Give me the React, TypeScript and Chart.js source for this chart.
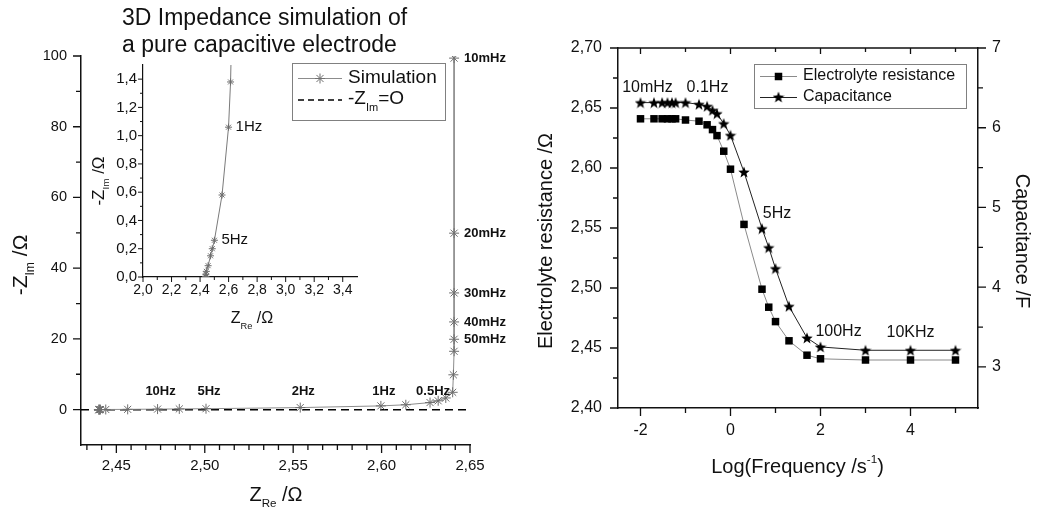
import React, { useEffect, useRef } from 'react';
import { Chart, registerables } from 'chart.js';

Chart.register(...registerables);

const FONT = '"Liberation Sans", Arial, Helvetica, sans-serif';
const INK = '#111111';

// ---------------- data ----------------
const freqLabels = ['10mHz', '20mHz', '30mHz', '40mHz', '50mHz', '60mHz', '0.1Hz', '0.2Hz', '0.3Hz', '0.4Hz', '0.5Hz', '0.7Hz', '1Hz', '2Hz', '5Hz', '7Hz', '10Hz', '20Hz', '50Hz', '100Hz', '1KHz', '10KHz', '100KHz'];
const logFrequency = [-2, -1.7, -1.52, -1.4, -1.3, -1.22, -1, -0.7, -0.52, -0.4, -0.3, -0.15, 0, 0.3, 0.7, 0.85, 1, 1.3, 1.7, 2, 3, 4, 5];
const electrolyteResistance = [2.641, 2.641, 2.641, 2.641, 2.641, 2.641, 2.640, 2.639, 2.636, 2.632, 2.627, 2.614, 2.599, 2.553, 2.499, 2.484, 2.472, 2.456, 2.444, 2.441, 2.440, 2.440, 2.440];
const capacitance = [6.315, 6.315, 6.315, 6.315, 6.315, 6.315, 6.315, 6.294, 6.269, 6.219, 6.177, 6.052, 5.905, 5.445, 4.735, 4.497, 4.234, 3.761, 3.364, 3.251, 3.209, 3.209, 3.209];
const zRe = [2.641, 2.641, 2.641, 2.641, 2.641, 2.641, 2.6406, 2.6402, 2.6363, 2.632, 2.6274, 2.6137, 2.5996, 2.554, 2.5007, 2.4856, 2.4733, 2.4564, 2.444, 2.441, 2.4404, 2.4402, 2.4401];
const zIm = [99.4, 49.9, 33.0, 24.8, 19.9, 16.5, 9.85, 4.9, 3.3, 2.5, 2.0, 1.38, 1.06, 0.58, 0.26, 0.2, 0.15, 0.08, 0.04, 0.02, 0.005, 0.0, 0.0];

// tick labels
const nyquistXTicks = [2.45, 2.5, 2.55, 2.6, 2.65];
const nyquistYTicks = [0, 20, 40, 60, 80, 100];
const nyquistYMinor = [10, 30, 50, 70, 90];
const insetXTicks = [2.0, 2.2, 2.4, 2.6, 2.8, 3.0, 3.2, 3.4];
const insetXMinor = [2.1, 2.3, 2.5, 2.7, 2.9, 3.1, 3.3];
const insetYTicks = [0, 0.2, 0.4, 0.6, 0.8, 1.0, 1.2, 1.4];
const insetYMinor = [0.1, 0.3, 0.5, 0.7, 0.9, 1.1, 1.3];
const logFreqTicks = [-2, 0, 2, 4];
const logFreqMinor = [-1, 1, 3, 5];
const resistanceTicks = [2.4, 2.45, 2.5, 2.55, 2.6, 2.65, 2.7];
const resistanceMinor = [2.425, 2.475, 2.525, 2.575, 2.625, 2.675];
const capacitanceTicks = [3, 4, 5, 6, 7];
const capacitanceMinor = [3.5, 4.5, 5.5, 6.5];

// annotated frequencies
const nyquistSideLabels = ['10mHz', '20mHz', '30mHz', '40mHz', '50mHz'];
const nyquistTopLabels = ['10Hz', '5Hz', '2Hz', '1Hz', '0.5Hz'];
const insetLabels = ['1Hz', '5Hz'];
const bodeLabels = ['10mHz', '0.1Hz', '5Hz', '100Hz', '10KHz'];
const bodeLabelOffset: Record<string, [number, number]> = {
  '10mHz': [7, -15],
  '0.1Hz': [22, -15],
  '5Hz': [15, -15],
  '100Hz': [18, -15],
  '10KHz': [0, -18],
};

// ---------------- helpers ----------------
type Part = { t: string; sub?: boolean; sup?: boolean };

function drawRich(
  ctx: CanvasRenderingContext2D,
  parts: Part[],
  x: number,
  y: number,
  size: number,
  opts: { align?: 'left' | 'center' | 'right'; rotate?: number; bold?: boolean; color?: string } = {}
) {
  const align = opts.align || 'center';
  ctx.save();
  ctx.translate(x, y);
  if (opts.rotate) ctx.rotate(opts.rotate);
  const fontFor = (p: Part) => `${opts.bold ? 'bold ' : ''}${p.sub || p.sup ? size * 0.58 : size}px ${FONT}`;
  const widths = parts.map((p) => {
    ctx.font = fontFor(p);
    return ctx.measureText(p.t).width;
  });
  const total = widths.reduce((a, b) => a + b, 0);
  let cx = align === 'center' ? -total / 2 : align === 'right' ? -total : 0;
  ctx.textBaseline = 'middle';
  ctx.textAlign = 'left';
  ctx.fillStyle = opts.color || INK;
  parts.forEach((p, i) => {
    ctx.font = fontFor(p);
    const dy = p.sub ? size * 0.45 : p.sup ? -size * 0.38 : 0;
    ctx.fillText(p.t, cx, dy);
    cx += widths[i];
  });
  ctx.restore();
}

function drawAsterisk(ctx: CanvasRenderingContext2D, x: number, y: number, r: number, color: string) {
  ctx.save();
  ctx.strokeStyle = color;
  ctx.lineWidth = 1;
  ctx.beginPath();
  for (let k = 0; k < 4; k++) {
    const a = (k * Math.PI) / 4;
    ctx.moveTo(x - r * Math.cos(a), y - r * Math.sin(a));
    ctx.lineTo(x + r * Math.cos(a), y + r * Math.sin(a));
  }
  ctx.stroke();
  ctx.restore();
}

function makeStar(size: number, color: string) {
  const c = document.createElement('canvas');
  c.width = size;
  c.height = size;
  const g = c.getContext('2d')!;
  const cx = size / 2;
  const cy = size / 2 + 0.6;
  const R = size / 2;
  const r = R * 0.42;
  g.beginPath();
  for (let i = 0; i < 10; i++) {
    const rad = i % 2 === 0 ? R : r;
    const ang = -Math.PI / 2 + (i * Math.PI) / 5;
    g.lineTo(cx + rad * Math.cos(ang), cy + rad * Math.sin(ang));
  }
  g.closePath();
  g.fillStyle = color;
  g.fill();
  return c;
}

const setTicks = (values: number[]) => (scale: any) => {
  scale.ticks = values.map((v) => ({ value: v }));
};
const comma = (d: number) => (v: any) => Number(v).toFixed(d).replace('.', ',');

type TickSpec = { scale: string; edge: 'left' | 'right' | 'top' | 'bottom'; values: number[]; len: number; inward?: boolean };

function tickPlugin(id: string, specs: TickSpec[], lw: number, frameTop = false) {
  return {
    id,
    afterDraw(chart: any) {
      const ctx: CanvasRenderingContext2D = chart.ctx;
      const a = chart.chartArea;
      ctx.save();
      ctx.strokeStyle = INK;
      ctx.lineWidth = lw;
      ctx.beginPath();
      for (const s of specs) {
        const sc = chart.scales[s.scale];
        for (const v of s.values) {
          const p = sc.getPixelForValue(v);
          if (s.edge === 'bottom' || s.edge === 'top') {
            const y0 = s.edge === 'bottom' ? a.bottom : a.top;
            const dir = s.edge === 'bottom' ? (s.inward ? -1 : 1) : s.inward ? 1 : -1;
            ctx.moveTo(p, y0);
            ctx.lineTo(p, y0 + dir * s.len);
          } else {
            const x0 = s.edge === 'left' ? a.left : a.right;
            const dir = s.edge === 'left' ? (s.inward ? 1 : -1) : s.inward ? -1 : 1;
            ctx.moveTo(x0, p);
            ctx.lineTo(x0 + dir * s.len, p);
          }
        }
      }
      if (frameTop) {
        ctx.moveTo(a.left, a.top);
        ctx.lineTo(a.right, a.top);
      }
      ctx.stroke();
      ctx.restore();
    },
  };
}

function axis(
  min: number,
  max: number,
  values: number[],
  fmt: (v: any) => string,
  size: number,
  padding: number,
  fit: (s: any) => void,
  extra: any = {},
  borderWidth = 1.5
) {
  return {
    type: 'linear',
    min,
    max,
    afterBuildTicks: setTicks(values),
    ticks: {
      callback: fmt,
      font: { family: FONT, size },
      color: INK,
      padding,
      autoSkip: false,
      maxRotation: 0,
      minRotation: 0,
    },
    grid: { display: false, drawTicks: false },
    border: { display: true, color: INK, width: borderWidth },
    title: { display: false },
    afterFit: fit,
    ...extra,
  };
}

// ---------------- component ----------------
export default function App() {
  const mainRef = useRef<HTMLCanvasElement>(null);
  const insetRef = useRef<HTMLCanvasElement>(null);
  const bodeRef = useRef<HTMLCanvasElement>(null);

  useEffect(() => {
    const charts: Chart[] = [];
    const simPoints = zRe.map((x, i) => ({ x, y: zIm[i] }));
    const X_MIN = 2.43;
    const X_MAX = 2.65;

    // ---------- Nyquist main ----------
    const nyMinorX: number[] = [];
    for (let k = -2; k <= 24; k++) if (k % 6 !== 0) nyMinorX.push(2.45 + (k * 0.05) / 6);

    const mainText = {
      id: 'mainText',
      afterDraw(chart: any) {
        const ctx: CanvasRenderingContext2D = chart.ctx;
        const xs = chart.scales.x;
        const ys = chart.scales.y;
        ctx.save();
        ctx.fillStyle = INK;
        ctx.font = `23px ${FONT}`;
        ctx.textAlign = 'left';
        ctx.textBaseline = 'alphabetic';
        ctx.fillText('3D Impedance simulation of', 122, 25);
        ctx.fillText('a pure capacitive electrode', 122, 52);
        ctx.restore();

        drawRich(ctx, [{ t: '-Z' }, { t: 'Im', sub: true }, { t: ' /Ω' }], 21, 265, 21, { rotate: -Math.PI / 2 });
        drawRich(ctx, [{ t: 'Z' }, { t: 'Re', sub: true }, { t: ' /Ω' }], 276, 495, 20);

        // legend
        ctx.save();
        ctx.fillStyle = '#ffffff';
        ctx.fillRect(292, 63, 153, 57);
        ctx.strokeStyle = '#808080';
        ctx.lineWidth = 1;
        ctx.strokeRect(292.5, 63.5, 153, 57);
        ctx.strokeStyle = '#8c8c8c';
        ctx.beginPath();
        ctx.moveTo(298, 78.5);
        ctx.lineTo(342, 78.5);
        ctx.stroke();
        drawAsterisk(ctx, 320, 78.5, 5, '#707070');
        ctx.strokeStyle = '#000';
        ctx.lineWidth = 1.5;
        ctx.setLineDash([6, 4]);
        ctx.beginPath();
        ctx.moveTo(298, 100);
        ctx.lineTo(342, 100);
        ctx.stroke();
        ctx.setLineDash([]);
        ctx.fillStyle = INK;
        ctx.font = `19px ${FONT}`;
        ctx.textAlign = 'left';
        ctx.textBaseline = 'middle';
        ctx.fillText('Simulation', 348, 78);
        ctx.restore();
        drawRich(ctx, [{ t: '-Z' }, { t: 'Im', sub: true }, { t: '=O' }], 348, 99, 19, { align: 'left' });

        // frequency labels
        ctx.save();
        ctx.fillStyle = INK;
        ctx.font = `bold 13px ${FONT}`;
        ctx.textBaseline = 'middle';
        ctx.textAlign = 'left';
        nyquistSideLabels.forEach((lbl) => {
          const i = freqLabels.indexOf(lbl);
          ctx.fillText(lbl, xs.getPixelForValue(zRe[i]) + 10, ys.getPixelForValue(zIm[i]));
        });
        ctx.textAlign = 'center';
        const y0 = ys.getPixelForValue(0);
        nyquistTopLabels.forEach((lbl) => {
          const i = freqLabels.indexOf(lbl);
          ctx.fillText(lbl, xs.getPixelForValue(zRe[i]) + 3, y0 - 18);
        });
        ctx.restore();
      },
    };

    charts.push(
      new Chart(mainRef.current!, {
        type: 'scatter',
        data: {
          datasets: [
            {
              label: 'Simulation',
              data: simPoints,
              showLine: true,
              borderColor: '#8c8c8c',
              borderWidth: 1,
              pointStyle: 'star',
              pointRadius: 5,
              pointBorderColor: '#6e6e6e',
              pointBorderWidth: 1,
              pointBackgroundColor: 'rgba(0,0,0,0)',
            },
            {
              label: '-Z_Im=O',
              data: [
                { x: X_MIN, y: 0 },
                { x: X_MAX, y: 0 },
              ],
              showLine: true,
              borderColor: '#000000',
              borderWidth: 1.5,
              borderDash: [8, 5],
              pointRadius: 0,
            },
          ],
        } as any,
        options: {
          responsive: false,
          animation: false,
          events: [],
          layout: { padding: { left: 0, top: 56, right: 50, bottom: 0 } },
          plugins: { legend: { display: false }, tooltip: { enabled: false }, title: { display: false } },
          scales: {
            x: axis(X_MIN, X_MAX, nyquistXTicks, comma(2), 15, 12, (s: any) => { s.height = 68; }, { position: 'bottom' }),
            y: axis(-10, 100, nyquistYTicks, (v: any) => String(v), 14.5, 14, (s: any) => { s.width = 81; }, { position: 'left' }),
          },
        } as any,
        plugins: [
          tickPlugin('mainTicks', [
            { scale: 'x', edge: 'bottom', values: nyquistXTicks, len: 8 },
            { scale: 'x', edge: 'bottom', values: nyMinorX, len: 5 },
            { scale: 'y', edge: 'left', values: nyquistYTicks, len: 8 },
            { scale: 'y', edge: 'left', values: nyquistYMinor, len: 5 },
          ], 1.3),
          mainText,
        ],
      })
    );

    // ---------- Nyquist inset ----------
    const insetText = {
      id: 'insetText',
      afterDraw(chart: any) {
        const ctx: CanvasRenderingContext2D = chart.ctx;
        const xs = chart.scales.x;
        const ys = chart.scales.y;
        drawRich(ctx, [{ t: '-Z' }, { t: 'Im', sub: true }, { t: ' /Ω' }], 39, 141, 17, { rotate: -Math.PI / 2 });
        drawRich(ctx, [{ t: 'Z' }, { t: 'Re', sub: true }, { t: ' /Ω' }], 192, 279, 16);
        ctx.save();
        ctx.fillStyle = INK;
        ctx.font = `15px ${FONT}`;
        ctx.textAlign = 'left';
        ctx.textBaseline = 'middle';
        insetLabels.forEach((lbl) => {
          const i = freqLabels.indexOf(lbl);
          ctx.fillText(lbl, xs.getPixelForValue(zRe[i]) + 7, ys.getPixelForValue(zIm[i]));
        });
        ctx.restore();
      },
    };

    charts.push(
      new Chart(insetRef.current!, {
        type: 'scatter',
        data: {
          datasets: [
            {
              label: 'Simulation',
              data: simPoints,
              showLine: true,
              borderColor: '#7a7a7a',
              borderWidth: 1,
              pointStyle: 'star',
              pointRadius: 3.5,
              pointBorderColor: '#6e6e6e',
              pointBorderWidth: 1,
              pointBackgroundColor: 'rgba(0,0,0,0)',
            },
          ],
        } as any,
        options: {
          responsive: false,
          animation: false,
          events: [],
          layout: { padding: { left: 0, top: 25, right: 23, bottom: 0 } },
          plugins: { legend: { display: false }, tooltip: { enabled: false }, title: { display: false } },
          scales: {
            x: axis(2.0, 3.5, insetXTicks, comma(1), 14, 5, (s: any) => { s.height = 63; }, { position: 'bottom' }, 1.2),
            y: axis(0, 1.5, insetYTicks, comma(1), 15, 6, (s: any) => { s.width = 83; }, { position: 'left' }, 1.2),
          },
        } as any,
        plugins: [
          tickPlugin('insetTicks', [
            { scale: 'x', edge: 'bottom', values: insetXTicks, len: 5 },
            { scale: 'x', edge: 'bottom', values: insetXMinor, len: 3 },
            { scale: 'y', edge: 'left', values: insetYTicks, len: 5 },
            { scale: 'y', edge: 'left', values: insetYMinor, len: 3 },
          ], 1),
          insetText,
        ],
      })
    );

    // ---------- Bode-like right chart ----------
    const starImg = makeStar(12, '#000000');
    const bodeText = {
      id: 'bodeText',
      afterDraw(chart: any) {
        const ctx: CanvasRenderingContext2D = chart.ctx;
        const xs = chart.scales.x;
        const y2 = chart.scales.y2;
        drawRich(ctx, [{ t: 'Electrolyte resistance /Ω' }], 26, 241, 20, { rotate: -Math.PI / 2 });
        drawRich(ctx, [{ t: 'Capacitance /F' }], 502, 241, 20, { rotate: Math.PI / 2 });
        drawRich(ctx, [{ t: 'Log(Frequency /s' }, { t: '-1', sup: true }, { t: ')' }], 277.5, 467, 20);

        // legend
        ctx.save();
        ctx.fillStyle = '#ffffff';
        ctx.fillRect(234, 64, 212, 44);
        ctx.strokeStyle = '#808080';
        ctx.lineWidth = 1;
        ctx.strokeRect(234.5, 64.5, 212, 44);
        ctx.strokeStyle = '#8a8a8a';
        ctx.beginPath();
        ctx.moveTo(240, 76.5);
        ctx.lineTo(277, 76.5);
        ctx.stroke();
        ctx.fillStyle = '#000';
        ctx.fillRect(254.75, 72.75, 7.5, 7.5);
        ctx.strokeStyle = '#222';
        ctx.beginPath();
        ctx.moveTo(240, 97.5);
        ctx.lineTo(277, 97.5);
        ctx.stroke();
        ctx.drawImage(starImg, 258.5 - starImg.width / 2, 97 - starImg.height / 2);
        ctx.fillStyle = INK;
        ctx.font = `16px ${FONT}`;
        ctx.textAlign = 'left';
        ctx.textBaseline = 'middle';
        ctx.fillText('Electrolyte resistance', 283, 76);
        ctx.fillText('Capacitance', 283, 97);

        // frequency labels
        ctx.textAlign = 'center';
        bodeLabels.forEach((lbl) => {
          const i = freqLabels.indexOf(lbl);
          const [dx, dy] = bodeLabelOffset[lbl];
          ctx.fillText(lbl, xs.getPixelForValue(logFrequency[i]) + dx, y2.getPixelForValue(capacitance[i]) + dy);
        });
        ctx.restore();
      },
    };

    charts.push(
      new Chart(bodeRef.current!, {
        type: 'scatter',
        data: {
          datasets: [
            {
              label: 'Electrolyte resistance',
              data: logFrequency.map((x, i) => ({ x, y: electrolyteResistance[i] })),
              yAxisID: 'y',
              showLine: true,
              borderColor: '#8a8a8a',
              borderWidth: 1,
              pointStyle: 'rect',
              pointRadius: 5.3,
              pointBackgroundColor: '#000000',
              pointBorderColor: '#000000',
              pointBorderWidth: 0,
            },
            {
              label: 'Capacitance',
              data: logFrequency.map((x, i) => ({ x, y: capacitance[i] })),
              yAxisID: 'y2',
              showLine: true,
              borderColor: '#222222',
              borderWidth: 1,
              pointStyle: starImg,
              pointRadius: 6,
              pointBackgroundColor: '#000000',
              pointBorderColor: '#000000',
            },
          ],
        } as any,
        options: {
          responsive: false,
          animation: false,
          events: [],
          layout: { padding: { left: 0, top: 48, right: 0, bottom: 0 } },
          plugins: { legend: { display: false }, tooltip: { enabled: false }, title: { display: false } },
          scales: {
            x: axis(-2.5, 5.5, logFreqTicks, (v: any) => String(v), 16, 13, (s: any) => { s.height = 105; }, { position: 'bottom' }),
            y: axis(2.4, 2.7, resistanceTicks, comma(2), 16, 16, (s: any) => { s.width = 98; }, { position: 'left' }),
            y2: axis(2.485, 7, capacitanceTicks, (v: any) => String(v), 16, 14, (s: any) => { s.width = 59; }, { position: 'right' }),
          },
        } as any,
        plugins: [
          tickPlugin('bodeTicks', [
            { scale: 'x', edge: 'bottom', values: logFreqTicks, len: 8 },
            { scale: 'x', edge: 'bottom', values: logFreqMinor, len: 5 },
            { scale: 'x', edge: 'top', values: logFreqTicks, len: 6, inward: true },
            { scale: 'x', edge: 'top', values: logFreqMinor, len: 4, inward: true },
            { scale: 'y', edge: 'left', values: resistanceTicks, len: 8 },
            { scale: 'y', edge: 'left', values: resistanceMinor, len: 5 },
            { scale: 'y2', edge: 'right', values: capacitanceTicks, len: 8 },
            { scale: 'y2', edge: 'right', values: capacitanceMinor, len: 5 },
          ], 1.3, true),
          bodeText,
        ],
      })
    );

    return () => charts.forEach((c) => c.destroy());
  }, []);

  return (
    <div style={{ position: 'fixed', left: 0, top: 0, width: 1037, height: 513, background: '#ffffff', overflow: 'hidden' }}>
      <canvas ref={mainRef} width={520} height={513} style={{ position: 'absolute', left: 0, top: 0 }} />
      <canvas ref={insetRef} width={320} height={300} style={{ position: 'absolute', left: 60, top: 40 }} />
      <canvas ref={bodeRef} width={517} height={513} style={{ position: 'absolute', left: 520, top: 0 }} />
    </div>
  );
}
